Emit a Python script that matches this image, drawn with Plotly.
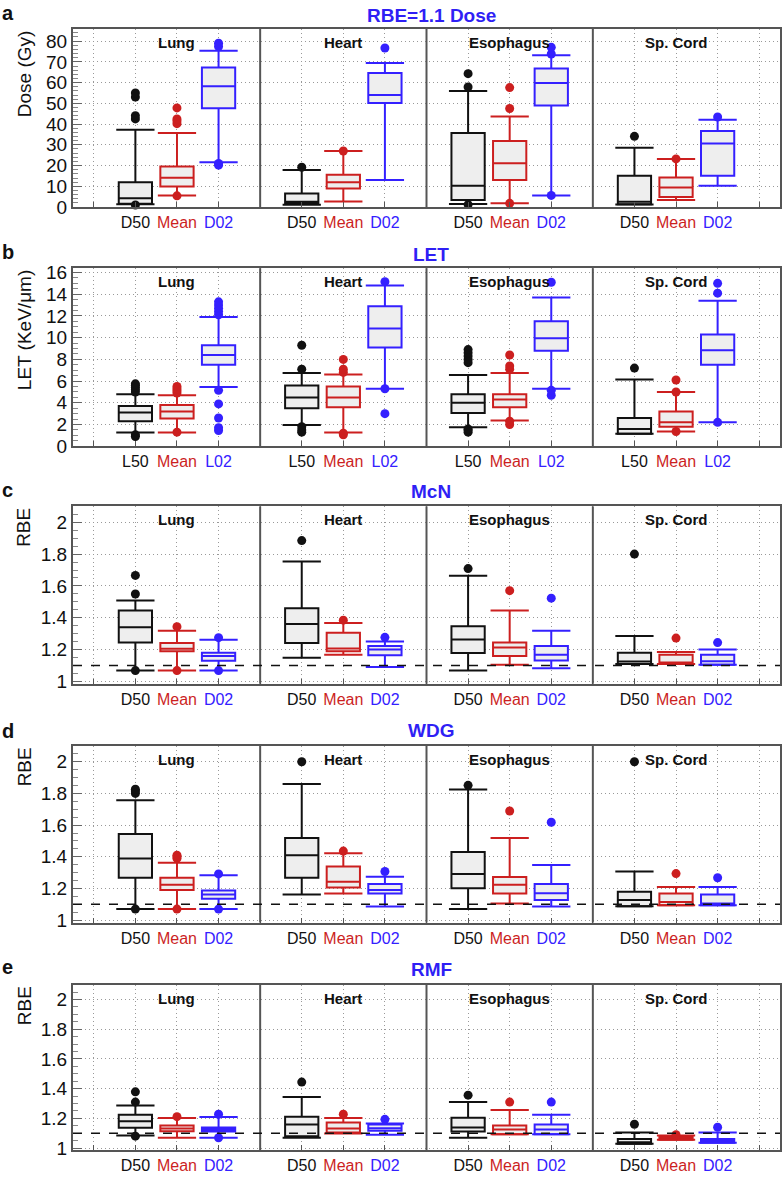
import plotly.graph_objects as go

# ---------------- data (lo whisker, q1, median, q3, hi whisker) per organ ----------------
organs = ["Lung", "Heart", "Esophagus", "Sp. Cord"]
dose_labels = ["D50", "Mean", "D02"]
let_labels = ["L50", "Mean", "L02"]

# a: RBE=1.1 Dose (Gy)
dose_d50 = [(1.3, 1.6, 4.3, 11.9, 37.3), (1.1, 1.6, 2.6, 6.5, 17.9), (1.5, 3.4, 10.3, 35.7, 56.0), (1.2, 1.3, 2.6, 15.1, 28.6)]
dose_d50_out = [[1.0, 42.5, 44.0, 53.0, 55.0], [19.2], [1.2, 57.9, 64.3], [34.1]]
dose_mean = [(5.6, 9.9, 14.1, 19.5, 35.7), (2.7, 8.9, 11.9, 15.6, 27.0), (1.8, 13.0, 21.1, 31.9, 43.7), (3.4, 4.8, 9.4, 14.2, 23.2)]
dose_mean_out = [[5.4, 40.2, 41.5, 42.5, 47.8], [27.0], [1.8, 47.5, 57.6], [23.2]]
dose_d02 = [(21.6, 47.6, 58.3, 67.3, 75.4), (13.1, 50.2, 54.0, 64.6, 69.5), (5.6, 49.0, 59.8, 66.8, 73.2), (10.3, 15.1, 30.7, 36.7, 42.1)]
dose_d02_out = [[20.2, 21.0, 77.4, 79.0], [76.7], [5.6, 73.8, 77.0], [43.4]]

# b: LET (KeV/um)
let_l50 = [(1.27, 2.3, 3.1, 3.7, 4.8), (1.95, 3.5, 4.5, 5.6, 6.75), (1.76, 3.06, 4.0, 4.8, 6.55), (1.15, 1.15, 1.6, 2.6, 6.15)]
let_l50_out = [[0.9, 1.05, 5.0, 5.2, 5.4, 5.6, 5.75], [1.3, 1.5, 1.8, 7.1, 9.3], [1.3, 1.5, 1.6, 7.7, 8.0, 8.3, 8.6, 8.9], [7.2]]
let_mean = [(1.27, 2.55, 3.2, 3.8, 4.7), (1.27, 3.6, 4.5, 5.5, 6.6), (2.36, 3.6, 4.3, 4.8, 6.75), (1.36, 1.8, 2.2, 3.2, 5.0)]
let_mean_out = [[1.3, 4.9, 5.1, 5.3, 5.5], [1.05, 1.2, 6.8, 7.1, 8.0], [2.0, 2.3, 7.1, 7.4, 8.4], [1.36, 5.0, 6.1]]
let_l02 = [(5.45, 7.5, 8.4, 9.3, 11.9), (5.3, 9.1, 10.85, 12.9, 14.8), (5.3, 8.8, 9.95, 11.5, 13.7), (2.2, 7.5, 8.85, 10.3, 13.4)]
let_l02_out = [[1.45, 1.7, 2.6, 3.9, 5.15, 12.1, 12.4, 12.7, 13.0, 13.3], [3.0, 5.3, 15.15], [4.7, 5.15, 15.1], [2.2, 14.1, 15.0]]

# c: McN RBE
mcn_d50 = [(1.068, 1.244, 1.34, 1.445, 1.508), (1.148, 1.242, 1.36, 1.459, 1.754), (1.068, 1.178, 1.264, 1.346, 1.664), (1.11, 1.11, 1.125, 1.18, 1.285)]
mcn_d50_out = [[1.068, 1.549, 1.666], [1.885], [1.709], [1.80]]
mcn_mean = [(1.068, 1.19, 1.205, 1.242, 1.318), (1.168, 1.19, 1.207, 1.305, 1.367), (1.105, 1.16, 1.213, 1.244, 1.445), (1.109, 1.109, 1.119, 1.168, 1.184)]
mcn_mean_out = [[1.068, 1.344], [1.385], [1.57], [1.272]]
mcn_d02 = [(1.068, 1.13, 1.16, 1.18, 1.262), (1.09, 1.164, 1.2, 1.223, 1.25), (1.082, 1.131, 1.168, 1.223, 1.318), (1.105, 1.105, 1.127, 1.168, 1.2)]
mcn_d02_out = [[1.068, 1.275], [1.277], [1.523], [1.244]]

# d: WDG RBE
wdg_d50 = [(1.07, 1.268, 1.39, 1.544, 1.757), (1.162, 1.268, 1.409, 1.519, 1.859), (1.07, 1.202, 1.292, 1.431, 1.824), (1.088, 1.088, 1.127, 1.18, 1.307)]
wdg_d50_out = [[1.07, 1.80, 1.815, 1.826], [2.0], [1.851], [2.0]]
wdg_mean = [(1.07, 1.19, 1.223, 1.268, 1.362), (1.168, 1.207, 1.243, 1.339, 1.423), (1.106, 1.168, 1.223, 1.272, 1.519), (1.094, 1.094, 1.115, 1.168, 1.21)]
wdg_mean_out = [[1.07, 1.39, 1.40, 1.41], [1.436], [1.689], [1.294]]
wdg_d02 = [(1.07, 1.135, 1.162, 1.188, 1.284), (1.086, 1.168, 1.19, 1.229, 1.274), (1.086, 1.127, 1.17, 1.229, 1.348), (1.094, 1.094, 1.106, 1.162, 1.21)]
wdg_d02_out = [[1.07, 1.292], [1.307], [1.618], [1.268]]

# e: RMF RBE
rmf_d50 = [(1.084, 1.136, 1.18, 1.224, 1.287), (1.069, 1.08, 1.158, 1.211, 1.344), (1.069, 1.111, 1.138, 1.204, 1.309), (1.029, 1.029, 1.038, 1.06, 1.104)]
rmf_d50_out = [[1.08, 1.309, 1.378], [1.444], [1.356], [1.16]]
rmf_mean = [(1.069, 1.113, 1.131, 1.151, 1.202), (1.098, 1.104, 1.131, 1.171, 1.202), (1.093, 1.093, 1.124, 1.151, 1.256), (1.056, 1.056, 1.069, 1.08, 1.084)]
rmf_mean_out = [[1.211], [1.227], [1.309], [1.089]]
rmf_d02 = [(1.069, 1.111, 1.124, 1.138, 1.209), (1.089, 1.116, 1.133, 1.158, 1.165), (1.093, 1.093, 1.124, 1.158, 1.224), (1.036, 1.036, 1.049, 1.06, 1.104)]
rmf_d02_out = [[1.069, 1.227], [1.193], [1.309], [1.14]]

panels = [
    dict(letter="a", title="RBE=1.1 Dose", ytitle="Dose (Gy)", labels=dose_labels,
         series=[(dose_d50, dose_d50_out), (dose_mean, dose_mean_out), (dose_d02, dose_d02_out)],
         yrange=[0, 86], dtick=10, tick0=0, minor=2, ref=None),
    dict(letter="b", title="LET", ytitle="LET (KeV/μm)", labels=let_labels,
         series=[(let_l50, let_l50_out), (let_mean, let_mean_out), (let_l02, let_l02_out)],
         yrange=[0, 16.4], dtick=2, tick0=0, minor=0.5, ref=None),
    dict(letter="c", title="McN", ytitle="RBE", labels=dose_labels,
         series=[(mcn_d50, mcn_d50_out), (mcn_mean, mcn_mean_out), (mcn_d02, mcn_d02_out)],
         yrange=[0.985, 2.1], dtick=0.2, tick0=1, minor=0.05, ref=1.1),
    dict(letter="d", title="WDG", ytitle="RBE", labels=dose_labels,
         series=[(wdg_d50, wdg_d50_out), (wdg_mean, wdg_mean_out), (wdg_d02, wdg_d02_out)],
         yrange=[0.985, 2.1], dtick=0.2, tick0=1, minor=0.05, ref=1.1),
    dict(letter="e", title="RMF", ytitle="RBE", labels=dose_labels,
         series=[(rmf_d50, rmf_d50_out), (rmf_mean, rmf_mean_out), (rmf_d02, rmf_d02_out)],
         yrange=[0.985, 2.1], dtick=0.2, tick0=1, minor=0.05, ref=1.1),
]

# ---------------- styling / layout ----------------
W, H = 782, 1177
FONT = "Liberation Sans, Arial, Helvetica, sans-serif"
colors = ["#111111", "#cc1f1f", "#3420ff"]
title_blue = "#2f1ff5"
fill = "#eeeeee"
grid_c = "#999999"
grid_dash = "1px,3px"
panel_px = [(23, 204), (266, 446.7), (507.7, 687.7), (750.7, 930), (993, 1161)]
title_py = [9.5, 252, 492.5, 735.5, 978]
letter_py = [7, 250, 491, 736, 975]
x_left, x_right = 73, 780
xrange_ = [1.5, 18.5]
box_w = 0.8
cap_half = 0.46


def py(p):
    return 1 - p / H


def px(p):
    return p / W


fig = go.Figure()
annotations = []
shapes = []

for pi, pan in enumerate(panels):
    n = "" if pi == 0 else str(pi + 1)
    xa, ya = "x" + n, "y" + n
    positions = []
    texts = []
    for oi in range(len(organs)):
        for mi in range(3):
            positions.append(3 + 4 * oi + mi)
            texts.append('<span style="color:%s">%s</span>' % (colors[mi], pan["labels"][mi]))

    for mi, (stats, outs) in enumerate(pan["series"]):
        c = colors[mi]
        xs = [3 + 4 * oi + mi for oi in range(len(organs))]
        fig.add_trace(go.Box(
            x=xs, lowerfence=[s[0] for s in stats], q1=[s[1] for s in stats],
            median=[s[2] for s in stats], q3=[s[3] for s in stats],
            upperfence=[s[4] for s in stats],
            width=box_w, whiskerwidth=0, fillcolor=fill,
            line=dict(color=c, width=2), boxpoints=False,
            xaxis=xa, yaxis=ya, showlegend=False, hoverinfo="skip"))
        cx, cy = [], []
        for x0, s in zip(xs, stats):
            for v in (s[0], s[4]):
                cx += [x0 - cap_half, x0 + cap_half, None]
                cy += [v, v, None]
        fig.add_trace(go.Scatter(x=cx, y=cy, mode="lines", line=dict(color=c, width=2),
                                 xaxis=xa, yaxis=ya, showlegend=False, hoverinfo="skip"))
        ox, oy = [], []
        for x0, o in zip(xs, outs):
            ox += [x0] * len(o)
            oy += list(o)
        fig.add_trace(go.Scatter(x=ox, y=oy, mode="markers", marker=dict(color=c, size=9),
                                 xaxis=xa, yaxis=ya, showlegend=False, hoverinfo="skip",
                                 cliponaxis=False))

    top, bot = panel_px[pi]
    fig.update_layout(**{
        "xaxis" + n: dict(
            domain=[px(x_left), px(x_right)], range=xrange_, anchor=ya,
            tickmode="array", tickvals=positions, ticktext=texts,
            ticks="inside", ticklen=5, tickcolor="#555",
            showgrid=True, gridcolor=grid_c, griddash=grid_dash, gridwidth=1,
            minor=dict(tick0=0, dtick=1, ticks="inside", ticklen=5, tickcolor="#555",
                       showgrid=True, gridcolor=grid_c, griddash=grid_dash, gridwidth=1),
            showline=True, linecolor="#555", linewidth=2, mirror=True,
            zeroline=False, tickfont=dict(family=FONT, size=16, color="#111"),
        ),
        "yaxis" + n: dict(
            domain=[py(bot), py(top)], range=pan["yrange"], anchor=xa,
            tick0=pan["tick0"], dtick=pan["dtick"], ticks="inside", ticklen=9,
            tickcolor="#666", tickwidth=1,
            showgrid=True, gridcolor=grid_c, griddash=grid_dash, gridwidth=1,
            minor=dict(tick0=pan["tick0"], dtick=pan["minor"], ticks="inside", ticklen=5,
                       tickcolor="#888", showgrid=False),
            showline=True, linecolor="#555", linewidth=2, mirror=True,
            zeroline=False, tickfont=dict(family=FONT, size=19, color="#111"),
        ),
    })

    for sx in (6, 10, 14):
        shapes.append(dict(type="line", xref=xa, yref=ya + " domain", x0=sx, x1=sx, y0=0, y1=1,
                           line=dict(color="#555", width=2), layer="above"))
    if pan["ref"] is not None:
        shapes.append(dict(type="line", xref=xa + " domain", yref=ya, x0=0, x1=1,
                           y0=pan["ref"], y1=pan["ref"],
                           line=dict(color="#111", width=1.5, dash="dash"), layer="above"))
    for oi, org in enumerate(organs):
        annotations.append(dict(text="<b>%s</b>" % org, xref=xa, yref=ya + " domain",
                                x=4 + 4 * oi, y=1, yanchor="top", yshift=-3, showarrow=False,
                                font=dict(family=FONT, size=15, color="#111")))
    annotations.append(dict(text="<b>%s</b>" % pan["title"], xref="paper", yref="paper",
                            x=px(431), y=py(title_py[pi]), xanchor="center", yanchor="middle",
                            showarrow=False, font=dict(family=FONT, size=19, color=title_blue)))
    annotations.append(dict(text="<b>%s</b>" % pan["letter"], xref="paper", yref="paper",
                            x=px(0), y=py(letter_py[pi]), xanchor="left", yanchor="middle",
                            showarrow=False, font=dict(family=FONT, size=20, color="#111")))
    annotations.append(dict(text=pan["ytitle"], xref="paper", yref="paper",
                            x=px(24), y=py(top), xanchor="center", yanchor="top",
                            textangle=-90, showarrow=False,
                            font=dict(family=FONT, size=19, color="#111")))

fig.update_layout(
    width=W, height=H, margin=dict(l=0, r=0, t=0, b=0),
    paper_bgcolor="white", plot_bgcolor="white",
    annotations=annotations, shapes=shapes, showlegend=False,
    font=dict(family=FONT),
)

fig.write_html(
    "out.html",
    config={"displayModeBar": False},
    post_script="document.body.style.margin='0';document.body.style.padding='0';"
                "document.body.style.overflow='hidden';",
)
